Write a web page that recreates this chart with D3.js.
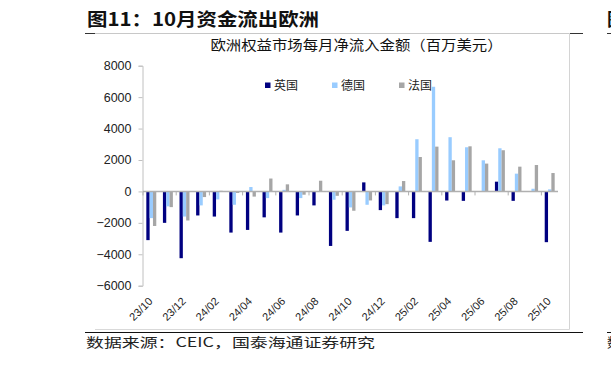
<!DOCTYPE html>
<html>
<head>
<meta charset="utf-8">
<script src="https://cdn.jsdelivr.net/npm/d3@7"></script>
<style>
  body { margin: 0; background: #fff; }
  svg { display: block; }
</style>
</head>
<body>
<div id="okvir"></div>
<script>
// mjeseci 23/10 .. 25/10
const mjeseci = ["23/10","23/11","23/12","24/01","24/02","24/03","24/04","24/05","24/06","24/07",
  "24/08","24/09","24/10","24/11","24/12","25/01","25/02","25/03","25/04","25/05",
  "25/06","25/07","25/08","25/09","25/10"]

const serije = ["英国", "德国", "法国"]

const uk = [-3100,-2000,-4250,-1530,-1600,-2620,-2450,-1650,-2620,-1530,
  -890,-3470,-2510,575,-1190,-1700,-1700,-3210,-580,-600,
  0,620,-600,0,-3230]
const de = [-1700,-950,-1600,-890,-510,-850,280,-425,100,-425,
  0,-530,-1020,-850,-890,320,3320,6660,3450,2810,
  1980,2745,1130,170,130]
const fr = [-2200,-1000,-1850,-360,40,-100,-330,820,450,-210,
  680,-280,-1230,-575,-810,660,2190,2850,1980,2870,
  1770,2620,1575,1680,1170]

const yTicks = [-6000,-4000,-2000,0,2000,4000,6000,8000]
const xOznake = mjeseci.filter((d, i) => i % 2 === 0)

const boje = ["#000080", "#99ccff", "#a6a6a6"]

const sirina = 611, visina = 366

const okvir = d3.select("#okvir")
  .append("svg")
  .attr("width", sirina)
  .attr("height", visina)

const cjk = "'Noto Sans CJK SC', sans-serif"
const lat = "'Liberation Sans', Arial, sans-serif"

// naslov
okvir.append("text")
  .attr("x", 87).attr("y", 26)
  .attr("font-family", cjk).attr("font-weight", "bold")
  .attr("font-size", 18).attr("fill", "#111")
  .attr("textLength", 232).attr("lengthAdjust", "spacingAndGlyphs")
  .text("图11：10月资金流出欧洲")

// desni rub - sljedeca slika
okvir.append("text")
  .attr("x", 607).attr("y", 26)
  .attr("font-family", cjk).attr("font-weight", "bold")
  .attr("font-size", 18).attr("fill", "#111")
  .text("图12")
okvir.append("text")
  .attr("x", 607).attr("y", 347)
  .attr("font-family", cjk).attr("font-size", 13).attr("fill", "#222")
  .text("数据")

// okvir grafikona
const linije = okvir.append("g")
linije.append("line").attr("x1", 85).attr("x2", 583).attr("y1", 33.5).attr("y2", 33.5)
  .attr("stroke", "#333")
linije.append("line").attr("x1", 95).attr("x2", 569.5).attr("y1", 33.5).attr("y2", 33.5)
  .attr("stroke", "#c8c8c8").attr("stroke-width", 1.2)
linije.append("line").attr("x1", 569.5).attr("x2", 569.5).attr("y1", 33).attr("y2", 329.5)
  .attr("stroke", "#d4d4d4")
linije.append("line").attr("x1", 95).attr("x2", 569.5).attr("y1", 329.5).attr("y2", 329.5)
  .attr("stroke", "#d9d9d9")
linije.append("line").attr("x1", 85).attr("x2", 583).attr("y1", 332.5).attr("y2", 332.5)
  .attr("stroke", "#111")
linije.append("line").attr("x1", 607).attr("x2", 611).attr("y1", 33.5).attr("y2", 33.5)
  .attr("stroke", "#333")
linije.append("line").attr("x1", 607).attr("x2", 611).attr("y1", 332.5).attr("y2", 332.5)
  .attr("stroke", "#111")

// podnaslov
okvir.append("text")
  .attr("x", 356.5).attr("y", 50)
  .attr("text-anchor", "middle")
  .attr("font-family", cjk).attr("font-size", 14).attr("fill", "#111")
  .attr("textLength", 292).attr("lengthAdjust", "spacingAndGlyphs")
  .text("欧洲权益市场每月净流入金额（百万美元）")

// izvor
okvir.append("text")
  .attr("x", 86).attr("y", 347)
  .attr("font-family", cjk).attr("font-size", 13).attr("fill", "#222")
  .attr("textLength", 289).attr("lengthAdjust", "spacingAndGlyphs")
  .text("数据来源：CEIC，国泰海通证券研究")

// skale
const x = d3.scaleBand()
  .domain(mjeseci)
  .range([143, 558])
  .paddingInner(0.4)
  .paddingOuter(0.2)

const xSub = d3.scaleBand()
  .domain(serije)
  .range([0, x.bandwidth()])

const y = d3.scaleLinear()
  .domain([-6000, 8000])
  .range([285.7, 65.7])

// y os
const yOs = okvir.append("g")
  .attr("transform", "translate(142.5,0)")
  .call(d3.axisLeft(y).tickValues(yTicks).tickSize(4).tickPadding(7).tickFormat(d3.format("d")))
yOs.select(".domain").attr("stroke", "#c0c0c0")
yOs.selectAll(".tick line").attr("stroke", "#c0c0c0")
yOs.selectAll(".tick text")
  .attr("font-family", lat).attr("font-size", 12.5).attr("fill", "#222")

// stupci
const podaci = mjeseci.map((m, i) => ({ m, vr: [uk[i], de[i], fr[i]] }))

const grupe = okvir.append("g")
  .selectAll("g")
  .data(podaci)
  .join("g")
  .attr("transform", d => `translate(${x(d.m)},0)`)

grupe.selectAll("rect")
  .data(d => d.vr.map((v, j) => ({ s: serije[j], v, j })))
  .join("rect")
  .attr("x", d => xSub(d.s))
  .attr("width", xSub.bandwidth())
  .attr("y", d => y(Math.max(0, d.v)))
  .attr("height", d => Math.abs(y(d.v) - y(0)))
  .attr("fill", d => boje[d.j])

// nulta linija
const korak = x.step()
okvir.append("line")
  .attr("x1", 143).attr("x2", 558)
  .attr("y1", y(0)).attr("y2", y(0))
  .attr("stroke", "#b0b0b0").attr("stroke-width", 1.5)

// crtice na x osi (svaka druga granica)
okvir.append("g")
  .selectAll("line")
  .data(xOznake)
  .join("line")
  .attr("x1", d => x(d) - x.step() * x.paddingInner() / 2)
  .attr("x2", d => x(d) - x.step() * x.paddingInner() / 2)
  .attr("y1", y(0)).attr("y2", y(0) + 4)
  .attr("stroke", "#b0b0b0")

// x oznake
okvir.append("g")
  .selectAll("text")
  .data(xOznake)
  .join("text")
  .attr("transform", d => `translate(${x(d) + x.bandwidth() / 2 + 2},${302}) rotate(-45)`)
  .attr("text-anchor", "end")
  .attr("font-family", lat).attr("font-size", 11).attr("fill", "#222")
  .text(d => d)

// legenda
const legX = [265, 332, 399]
const legenda = okvir.append("g")
  .selectAll("g")
  .data(serije)
  .join("g")
  .attr("transform", (d, i) => `translate(${legX[i]},82.5)`)
legenda.append("rect")
  .attr("width", 5.5).attr("height", 5.5)
  .attr("fill", (d, i) => boje[i])
legenda.append("text")
  .attr("x", 9).attr("y", 7)
  .attr("font-family", cjk).attr("font-size", 12).attr("fill", "#222")
  .text(d => d)
</script>
</body>
</html>
